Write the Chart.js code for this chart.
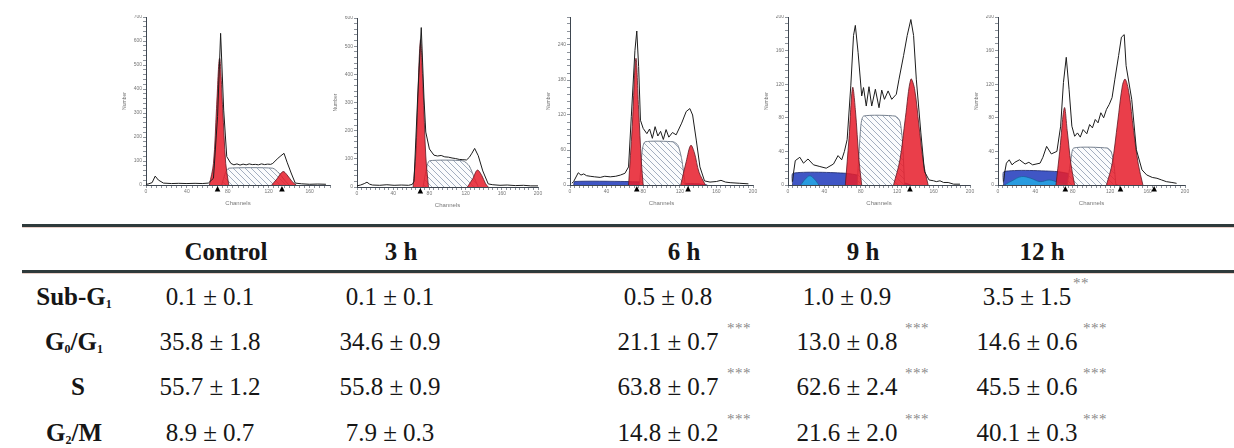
<!DOCTYPE html>
<html><head><meta charset="utf-8">
<script src="https://cdn.jsdelivr.net/npm/chart.js@4"></script>
<style>
html,body{margin:0;padding:0;}
body{width:1234px;height:448px;background:#fff;position:relative;overflow:hidden;color:#161616;}
.panel{position:absolute;}
.t{position:absolute;white-space:nowrap;transform:translate(-50%,-50%);font-family:"Liberation Serif","Tinos","Times New Roman","DejaVu Serif",serif;font-size:25px;line-height:1.1;}
.b{font-weight:bold;}
.t sub{font-size:12px;vertical-align:-3px;line-height:0;}
.star{position:absolute;white-space:nowrap;font-family:"Liberation Serif","DejaVu Serif",serif;font-size:15px;color:#8a8a8a;transform:translateY(-50%);letter-spacing:0.5px;}
.rule{position:absolute;left:22px;width:1212px;height:3px;background:#2e3a3b;box-shadow:0 1px 0 #e8cfc8;}
</style>
</head><body>
<script>
// ---------- histogram data (channel, count) ----------
const hist_ctrl=[[0,3],[2,4],[6,10],[9,37],[12,21],[17,8],[25,6],[32,7],[40,6],[48,7],[55,6],[61,8],[66,28],[70,285],[73,632],[76,312],[79,118],[83,90],[86,84],[89,88],[92,83],[95,87],[98,84],[101,88],[104,85],[107,86],[110,84],[113,88],[116,85],[119,87],[122,86],[124,90],[129,111],[132,122],[135,132],[138,95],[142,50],[146,8],[152,5],[160,3],[168,4],[176,3]];
const g1_ctrl=[[62,0],[66,90],[69,320],[72,528],[75,320],[78,90],[81,0]];
const s_ctrl=[[74,0],[78,55],[81,70],[124,70],[130,50],[136,18],[140,0]];
const g2_ctrl=[[123,0],[128,25],[134,56],[138,42],[143,14],[147,0]];
const marks_ctrl=[70,133];

const hist_3h=[[0,4],[4,7],[8,12],[11,17],[14,10],[17,7],[25,6],[33,8],[41,6],[49,7],[57,6],[61,9],[63,20],[67,316],[71,566],[74,316],[76,195],[80,135],[85,113],[89,110],[93,112],[97,107],[101,106],[105,103],[109,101],[113,98],[117,97],[121,96],[124,105],[127,120],[130,137],[134,111],[139,57],[145,11],[150,8],[158,6],[166,7],[175,5],[184,6],[192,4],[200,4]];
const g1_3h=[[62,0],[65,120],[70,520],[73,350],[76,110],[79,0]];
const s_3h=[[73,0],[77,70],[80,93],[117,93],[124,75],[130,30],[134,0]];
const g2_3h=[[122,0],[128,30],[133,60],[138,40],[142,12],[145,0]];
const marks_3h=[70];

const hist_6h=[[2,3],[4,6],[9,21],[12,17],[15,19],[18,16],[22,15],[27,14],[33,13],[38,15],[44,14],[50,15],[55,17],[60,20],[64,31],[67,117],[71,231],[73,264],[75,203],[77,111],[80,97],[84,88],[87,96],[90,80],[93,100],[96,84],[99,92],[102,78],[105,95],[108,82],[112,90],[116,86],[122,106],[127,126],[131,131],[134,120],[138,77],[142,31],[147,7],[153,5],[160,6],[165,8],[170,5],[175,4],[185,3],[195,2]];
const g1_6h=[[64,0],[68,100],[72,217],[75,130],[78,40],[80,0]];
const s_6h=[[76,0],[79,60],[82,74],[113,74],[118,68],[122,45],[126,0]];
const g2_6h=[[121,0],[127,40],[132,68],[136,55],[141,22],[148,0]];
const debris_6h=[[4,0],[5,6],[60,6],[100,4],[140,2],[150,0]];
const marks_6h=[73,129];

const hist_9h=[[5,4],[6,14],[8,29],[13,33],[17,26],[22,31],[28,24],[35,22],[42,20],[50,25],[55,35],[59,30],[62,40],[65,54],[69,118],[72,178],[74,190],[77,158],[81,106],[83,116],[86,94],[89,117],[92,94],[96,114],[100,92],[103,113],[106,102],[110,112],[114,102],[119,108],[122,126],[127,154],[131,178],[135,197],[138,178],[141,126],[146,62],[150,16],[155,6],[160,5],[163,4],[167,5],[171,3],[176,3],[182,1],[189,1]];
const g1_9h=[[63,0],[67,55],[71,116],[74,90],[78,30],[81,0]];
const s_9h=[[76,0],[80,70],[83,82],[118,82],[123,76],[126,50],[128,0]];
const g2_9h=[[116,0],[123,30],[129,80],[135,126],[139,115],[144,70],[149,25],[154,0]];
const debris_9h=[[5,0],[5.5,14],[63,14],[100,7],[130,2],[135,0]];
const cyan_9h=[[14,0],[19,7],[24,11],[29,7],[34,0]];
const marks_9h=[134];

const hist_12h=[[6,4],[7,14],[9,26],[12,30],[15,24],[18,27],[23,30],[29,25],[33,27],[37,24],[45,26],[48,33],[52,46],[57,37],[63,40],[67,70],[70,122],[73,152],[76,114],[79,70],[82,58],[85,62],[88,57],[91,66],[95,61],[98,72],[101,68],[104,78],[107,74],[110,86],[113,80],[116,90],[119,96],[122,104],[125,126],[129,154],[132,176],[135,179],[137,142],[143,102],[148,42],[154,18],[159,12],[165,9],[170,8],[175,6],[180,4],[186,3],[191,2]];
const g1_12h=[[62,0],[66,40],[71,92],[74,65],[78,25],[82,0]];
const s_12h=[[74,0],[78,30],[81,44],[117,44],[121,40],[124,25],[126,0]];
const g2_12h=[[116,0],[122,25],[128,75],[133,118],[136,126],[140,110],[145,65],[150,25],[155,0]];
const debris_12h=[[6,0],[6.5,16],[63,16],[95,9],[123,2],[128,0]];
const cyan_12h=[[7,0],[15,5],[25,10],[35,8],[45,4],[55,6],[65,3],[80,0]];
const marks_12h=[72,131,167];

// ---------- table data ----------
const groups=['Control','3 h','6 h','9 h','12 h'];
const phases=['Sub-G<sub>1</sub>','G<sub>0</sub>/G<sub>1</sub>','S','G<sub>2</sub>/M'];
const mean_ctrl=[0.1,35.8,55.7,8.9], sd_ctrl=[0.1,1.8,1.2,0.7], sig_ctrl=['','','',''];
const mean_3h=[0.1,34.6,55.8,7.9],   sd_3h=[0.1,0.9,0.9,0.3],   sig_3h=['','','',''];
const mean_6h=[0.5,21.1,63.8,14.8],  sd_6h=[0.8,0.7,0.7,0.2],   sig_6h=['','***','***','***'];
const mean_9h=[1.0,13.0,62.6,21.6],  sd_9h=[0.9,0.8,2.4,2.0],   sig_9h=['','***','***','***'];
const mean_12h=[3.5,14.6,45.5,40.1], sd_12h=[1.5,0.6,0.6,0.3],  sig_12h=['**','***','***','***'];

// ---------- layout (positions / styles) ----------
const PADL=24, PADT=2, PADR=10, PADB=22;
const panels=[
 {axX:146,axTop:17,w:184,h:168,xmax:180,ymax:700,yStep:20,yLab:100,hist:hist_ctrl,g1:g1_ctrl,s:s_ctrl,g2:g2_ctrl,deb:null,cy:null,marks:marks_ctrl},
 {axX:357,axTop:18,w:181,h:169,xmax:200,ymax:600,yStep:20,yLab:100,hist:hist_3h,g1:g1_3h,s:s_3h,g2:g2_3h,deb:null,cy:null,marks:marks_3h},
 {axX:570,axTop:17,w:183,h:168,xmax:200,ymax:288,yStep:12,yLab:60,hist:hist_6h,g1:g1_6h,s:s_6h,g2:g2_6h,deb:debris_6h,cy:null,marks:marks_6h},
 {axX:788,axTop:17,w:182,h:168,xmax:200,ymax:200,yStep:8,yLab:40,hist:hist_9h,g1:g1_9h,s:s_9h,g2:g2_9h,deb:debris_9h,cy:cyan_9h,marks:marks_9h},
 {axX:998,axTop:17,w:187,h:168,xmax:200,ymax:200,yStep:8,yLab:40,hist:hist_12h,g1:g1_12h,s:s_12h,g2:g2_12h,deb:debris_12h,cy:cyan_12h,marks:marks_12h}
];

const pts=a=>a.map(([x,y])=>({x,y}));

const markerPlugin={id:'markers',afterDraw(chart,args,opts){
  const xs=chart.scales.x, ys=chart.scales.y, ctx=chart.ctx, y0=ys.getPixelForValue(0);
  ctx.save(); ctx.fillStyle='#000';
  (opts.list||[]).forEach(ch=>{const x=xs.getPixelForValue(ch);
    ctx.beginPath(); ctx.moveTo(x,y0+1); ctx.lineTo(x-2.8,y0+6.5); ctx.lineTo(x+2.8,y0+6.5); ctx.closePath(); ctx.fill();});
  ctx.restore();
}};

function makeHatch(ctx){
  const c=document.createElement('canvas'); c.width=c.height=6;
  const g=c.getContext('2d'); g.fillStyle='#fbfcfd'; g.fillRect(0,0,6,6);
  g.strokeStyle='#a3aebf'; g.lineWidth=1;
  g.beginPath(); g.moveTo(0,0); g.lineTo(6,6); g.moveTo(-3,3); g.lineTo(3,9); g.moveTo(3,-3); g.lineTo(9,3); g.stroke();
  return ctx.createPattern(c,'repeat');
}

const tickFont={family:'"Liberation Sans", Arial, sans-serif',size:5};

panels.forEach((p,i)=>{
  const div=document.createElement('div'); div.className='panel';
  div.style.left=(p.axX-PADL)+'px'; div.style.top=(p.axTop-PADT)+'px';
  div.style.width=(PADL+p.w+PADR)+'px'; div.style.height=(PADT+p.h+PADB)+'px';
  const cv=document.createElement('canvas'); div.appendChild(cv); document.body.appendChild(div);
  const ctx=cv.getContext('2d');
  const red='rgba(230,30,44,0.86)', redB='#5e1822';
  const ds=[
    {data:pts(p.hist),borderColor:'#1c1c1c',borderWidth:1,fill:false,tension:0,pointRadius:0},
    {data:pts(p.g1),backgroundColor:red,borderColor:redB,borderWidth:0.8,fill:'origin',tension:0.35,pointRadius:0},
    {data:pts(p.g2),backgroundColor:red,borderColor:redB,borderWidth:0.8,fill:'origin',tension:0.35,pointRadius:0},
    {data:pts(p.s),backgroundColor:makeHatch(ctx),borderColor:'#76818f',borderWidth:1,fill:'origin',tension:0.2,pointRadius:0}
  ];
  if(p.cy) ds.push({data:pts(p.cy),backgroundColor:'rgba(40,160,225,0.95)',borderColor:'#1a5f9a',borderWidth:0.8,fill:'origin',tension:0.4,pointRadius:0});
  if(p.deb) ds.push({data:pts(p.deb),backgroundColor:'rgba(48,72,192,0.92)',borderColor:'#1b2668',borderWidth:0.8,fill:'origin',tension:0.2,pointRadius:0});
  new Chart(cv,{type:'line',data:{datasets:ds},
    options:{responsive:true,maintainAspectRatio:false,animation:false,
      layout:{autoPadding:false,padding:{left:0,top:PADT,right:PADR,bottom:0}},
      plugins:{legend:{display:false},tooltip:{enabled:false},markers:{list:p.marks}},
      scales:{
        x:{type:'linear',min:0,max:p.xmax,
          ticks:{stepSize:5,autoSkip:false,maxTicksLimit:1000,maxRotation:0,minRotation:0,padding:1,color:'#777',font:tickFont,
            callback:v=>(v%40===0?String(v):'')},
          grid:{drawOnChartArea:false,tickLength:3,color:'#5b6470',lineWidth:0.7},
          border:{display:true,color:'#3e4650',width:1},
          title:{display:true,text:'Channels',font:{family:'"Liberation Sans", Arial, sans-serif',size:6},color:'#777',padding:0},
          afterFit:s=>{s.height=PADB;s.paddingLeft=0;s.paddingRight=0;}},
        y:{min:0,max:p.ymax,
          ticks:{stepSize:p.yStep,autoSkip:false,maxTicksLimit:1000,padding:1,color:'#777',font:tickFont,
            callback:v=>(v%p.yLab===0?String(v):'')},
          grid:{drawOnChartArea:false,tickLength:3,color:'#5b6470',lineWidth:0.7},
          border:{display:true,color:'#3e4650',width:1},
          title:{display:true,text:'Number',font:{family:'"Liberation Sans", Arial, sans-serif',size:5},color:'#777',padding:0},
          afterFit:s=>{s.width=PADL;s.paddingTop=0;s.paddingBottom=0;}}
      }},
    plugins:[markerPlugin]});
});

// ---------- table ----------
function add(cls,html,x,y){const e=document.createElement('div');e.className=cls;e.innerHTML=html;e.style.left=x+'px';e.style.top=y+'px';document.body.appendChild(e);return e;}
const r1=document.createElement('div');r1.className='rule';r1.style.top='224px';document.body.appendChild(r1);
const r2=document.createElement('div');r2.className='rule';r2.style.top='270px';document.body.appendChild(r2);

const headX=[226,401,684,863,1042];
const valX=[210,390,668,847,1027];
const starX=[[0,0,0,0],[0,0,0,0],[727,727,727,727],[905,905,905,905],[1073,1083,1083,1083]];
const rowY=[297,342,387,433];
const labX=[74,74,78,74];
const allMean=[mean_ctrl,mean_3h,mean_6h,mean_9h,mean_12h];
const allSd=[sd_ctrl,sd_3h,sd_6h,sd_9h,sd_12h];
const allSig=[sig_ctrl,sig_3h,sig_6h,sig_9h,sig_12h];

groups.forEach((g,j)=>add('t b',g,headX[j],252));
phases.forEach((ph,i)=>{
  add('t b',ph,labX[i],rowY[i]);
  groups.forEach((g,j)=>{
    add('t',allMean[j][i].toFixed(1)+' ± '+allSd[j][i].toFixed(1),valX[j],rowY[i]);
    if(allSig[j][i]) add('star',allSig[j][i],starX[j][i],rowY[i]-14);
  });
});
</script>
</body></html>
